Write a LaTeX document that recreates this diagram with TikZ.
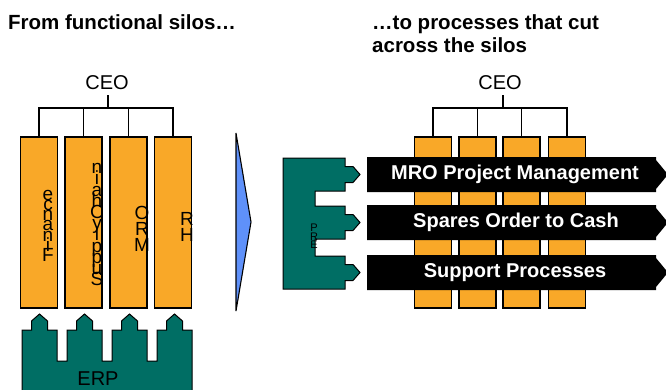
\documentclass[tikz,border=0pt]{standalone}
\usepackage{fontspec}
\setmainfont{Liberation Sans}
\definecolor{siloorange}{RGB}{249,168,40}
\definecolor{erpteal}{RGB}{0,110,100}
\definecolor{shiftblue}{RGB}{95,145,250}
\newcommand\tightlines{\lineskiplimit=-1000pt\lineskip=0pt\relax}
\tikzset{
  silo/.style={draw=black, line width=1.3pt, fill=siloorange, inner sep=0pt, outer sep=0pt,
               minimum width=37pt, minimum height=171pt},
  link/.style={draw=black, line width=1.1pt},
  ceotext/.style={font=\fontsize{20}{24}\selectfont, inner sep=0pt, anchor=base},
  vletters/.style={font={\fontsize{19}{#1}\selectfont\tightlines}, align=center,
                   inner sep=0pt, anchor=south},
  heading/.style={font=\fontsize{20.5}{23}\selectfont\bfseries, inner sep=0pt},
  erpshape/.style={draw=black, line width=1pt, fill=erpteal},
  process/.style={fill=black},
  proctext/.style={font=\fontsize{20}{24}\selectfont\bfseries, text=white, inner sep=0pt}
}
\begin{document}
\begin{tikzpicture}[x=1pt, y=-1pt]
\useasboundingbox (0,0) rectangle (666,389);
\clip (0,0) rectangle (666,389);

% ---------------- headings ----------------
\node[heading, anchor=base west] (hleft) at (8,29) {From functional silos…};
\node[heading, anchor=base west] (hright1) at (372,29) {…to processes that cut};
\node[heading, anchor=base west] (hright2) at (372,52) {across the silos};

% ---------------- left: functional silos ----------------
\node[ceotext] (ceoL) at (107,89) {CEO};
\coordinate (busL) at (108,108);

\node[silo] (s1) at (39,222.5) {};
\node[silo] (s2) at (83.5,222.5) {};
\node[silo] (s3) at (128.5,222.5) {};
\node[silo] (s4) at (173,222.5) {};

\draw[link] ([yshift=-6pt]ceoL.south -| busL) -- (busL);
\draw[link] (s1.north) -- (s1.north |- busL) -- (s4.north |- busL) -- (s4.north);
\draw[link] (s2.north) -- (s2.north |- busL);
\draw[link] (s3.north) -- (s3.north |- busL);

% function names, set letter over letter
\node[vletters=10.3] (fin) at (48,262) {e\\c\\n\\a\\n\\i\\F};
\node[vletters=11.2] (sup) at (97,286) {n\\i\\a\\h\\C\\y\\l\\p\\p\\u\\S};
\node[vletters=16] (mro) at (142,252) {O\\R\\M};
\node[vletters=16] (hr) at (187,242) {R\\H};

% ERP base with tabs pushing up into each silo
\path[erpshape]
  (22,395) -- (22,330)
  -- (31.5,330) -- (31.5,321) -- (39.5,314) -- (47.5,321) -- (47.5,330) -- (57,330)
  -- (57,361) -- (67,361) -- (67,330)
  -- (76.5,330) -- (76.5,321) -- (84.5,314) -- (92.5,321) -- (92.5,330) -- (102,330)
  -- (102,361) -- (112,361) -- (112,330)
  -- (121.5,330) -- (121.5,321) -- (129.5,314) -- (137.5,321) -- (137.5,330) -- (147,330)
  -- (147,361) -- (157,361) -- (157,330)
  -- (166.5,330) -- (166.5,321) -- (174.5,314) -- (182.5,321) -- (182.5,330) -- (192,330)
  -- (192,395) -- cycle;
\node[ceotext] (erpL) at (98,385) {ERP};

% ---------------- transition arrow ----------------
\draw[line width=1.1pt, fill=shiftblue, line join=miter] (236,133) -- (251,222) -- (236,311) -- cycle;

% ---------------- right: processes across silos ----------------
\node[ceotext] (ceoR) at (500,89) {CEO};
\coordinate (busR) at (503,108);

\node[silo] (c1) at (433,222.5) {};
\node[silo] (c2) at (477.5,222.5) {};
\node[silo] (c3) at (521.5,222.5) {};
\node[silo] (c4) at (567,222.5) {};

\draw[link] ([yshift=-6pt]ceoR.south -| busR) -- (busR);
\draw[link] (c1.north) -- (c1.north |- busR) -- (c4.north |- busR) -- (c4.north);
\draw[link] (c2.north) -- (c2.north |- busR);
\draw[link] (c3.north) -- (c3.north |- busR);

% process bands
\path[process] (367,157) -- (656,157) -- (656,160) -- (668,174.5) -- (656,189) -- (656,192) -- (367,192) -- cycle;
\path[process] (367,205) -- (656,205) -- (656,208) -- (668,222.5) -- (656,237) -- (656,240) -- (367,240) -- cycle;
\path[process] (367,255) -- (656,255) -- (656,258) -- (668,272.5) -- (656,287) -- (656,290) -- (367,290) -- cycle;
\node[proctext] (p1) at (515,174.5) {MRO Project Management};
\node[proctext] (p2) at (516,222.5) {Spares Order to Cash};
\node[proctext] (p3) at (515,272.5) {Support Processes};

% ERP feeding each process
\path[erpshape]
  (283,158) -- (345,158) -- (345,166.5) -- (353,166.5) -- (360,174.5) -- (353,182.5) -- (345,182.5) -- (345,191)
  -- (315,191) -- (315,206)
  -- (345,206) -- (345,214.5) -- (353,214.5) -- (360,222.5) -- (353,230.5) -- (345,230.5) -- (345,239)
  -- (315,239) -- (315,256)
  -- (345,256) -- (345,264.5) -- (353,264.5) -- (360,272.5) -- (353,280.5) -- (345,280.5) -- (345,289)
  -- (283,289) -- cycle;
\node[font={\fontsize{11}{8.5}\selectfont\tightlines}, align=center, inner sep=0pt, anchor=south] (erpR) at (314,249) {P\\R\\E};

\end{tikzpicture}
\end{document}
